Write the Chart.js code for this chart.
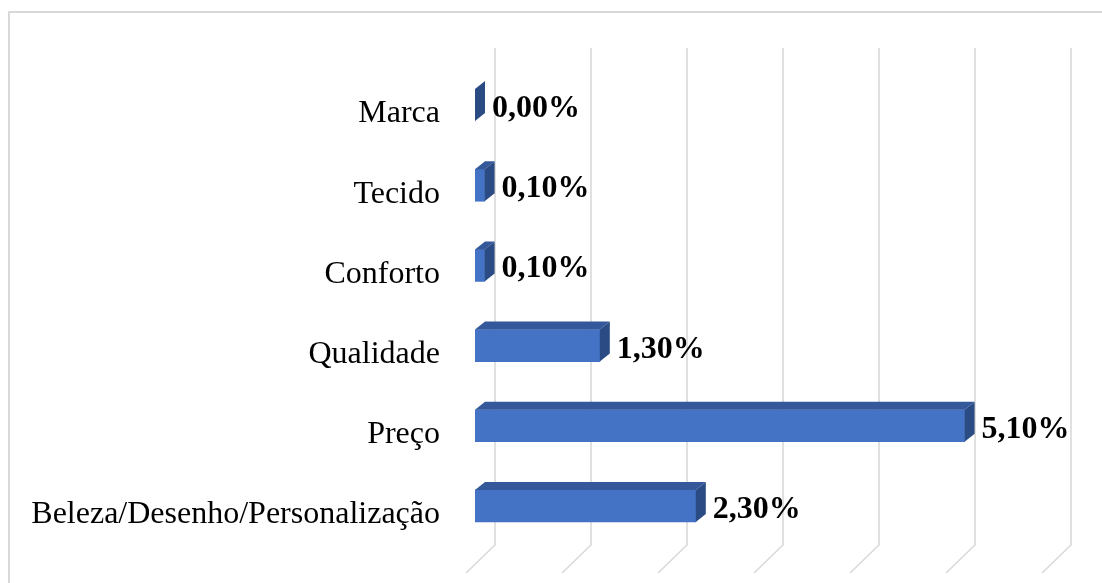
<!DOCTYPE html>
<html>
<head>
<meta charset="utf-8">
<script src="https://cdn.jsdelivr.net/npm/chart.js@4"></script>
<style>
  html, body { margin: 0; padding: 0; background: #ffffff; }
  #wrap { width: 1102px; height: 583px; }
</style>
</head>
<body>
<div id="wrap"><canvas id="myChart" width="1102" height="583"></canvas></div>
<script>
// values (percent)
const categories = ["Marca", "Tecido", "Conforto", "Qualidade", "Preço", "Beleza/Desenho/Personalização"];
const percentValues = [0.0, 0.1, 0.1, 1.3, 5.1, 2.3];
const axisMax = 6;

const frontColor = "#4472C4";
const topColor = "#34589A";
const sideColor = "#2B4B84";
const gridColor = "#d9d9d9";
const depthX = 10, depthY = 8;

function fmtPct(v) {
  return v.toFixed(2).replace(".", ",") + "%";
}

// back wall gridlines + floor diagonals, 3d faces and value labels
const bar3d = {
  id: "bar3d",
  beforeDraw(chart) {
    const ctx = chart.ctx;
    ctx.save();
    ctx.strokeStyle = gridColor;
    ctx.lineWidth = 2;
    ctx.beginPath();
    ctx.moveTo(9, 600);
    ctx.lineTo(9, 12);
    ctx.lineTo(1110, 12);
    ctx.stroke();
    ctx.restore();
  },
  beforeDatasetsDraw(chart) {
    const ctx = chart.ctx;
    const xs = chart.scales.x;
    const area = chart.chartArea;
    ctx.save();
    ctx.strokeStyle = gridColor;
    ctx.lineWidth = 1.6;
    for (let v = 0; v <= axisMax; v++) {
      const x = xs.getPixelForValue(v);
      ctx.beginPath();
      ctx.moveTo(x + 20, area.top - 17);
      ctx.lineTo(x + 20, area.bottom - 1);
      ctx.lineTo(x - 9, area.bottom + 27);
      ctx.stroke();
    }
    ctx.restore();
  },
  afterDatasetsDraw(chart) {
    const ctx = chart.ctx;
    const meta = chart.getDatasetMeta(0);
    ctx.save();
    meta.data.forEach((bar, i) => {
      const p = bar.getProps(["x", "y", "base", "height"], true);
      const top = p.y - p.height / 2;
      const bottom = p.y + p.height / 2;
      // top face
      ctx.fillStyle = topColor;
      ctx.beginPath();
      ctx.moveTo(p.base, top);
      ctx.lineTo(p.base + depthX, top - depthY);
      ctx.lineTo(p.x + depthX, top - depthY);
      ctx.lineTo(p.x, top);
      ctx.closePath();
      ctx.fill();
      // side face
      ctx.fillStyle = sideColor;
      ctx.beginPath();
      ctx.moveTo(p.x, top);
      ctx.lineTo(p.x + depthX, top - depthY);
      ctx.lineTo(p.x + depthX, bottom - depthY);
      ctx.lineTo(p.x, bottom);
      ctx.closePath();
      ctx.fill();
      // value label
      ctx.fillStyle = "#000000";
      ctx.font = "bold 32px 'Liberation Serif', 'Times New Roman', serif";
      ctx.textAlign = "left";
      ctx.textBaseline = "alphabetic";
      ctx.fillText(fmtPct(percentValues[i]), p.x + 17, p.y + 12);
    });
    ctx.restore();
  }
};

const data_1 = {
  labels: categories,
  datasets: [
    {
      data: percentValues,
      backgroundColor: frontColor,
      borderWidth: 0,
      barThickness: 32,
    },
  ],
};

const config = {
  type: "bar",
  data: data_1,
  options: {
    indexAxis: "y",
    responsive: false,
    animation: false,
    layout: {
      padding: { left: 0, right: 51, top: 65, bottom: 37 },
    },
    scales: {
      x: {
        display: false,
        min: 0,
        max: axisMax,
      },
      y: {
        grid: { display: false, drawTicks: false },
        border: { display: false },
        ticks: {
          color: "#000000",
          padding: 35,
          labelOffset: 9,
          font: { family: "'Liberation Serif', 'Times New Roman', serif", size: 32 },
        },
        afterFit(scale) {
          scale.width = 475;
          scale.paddingTop = 0;
          scale.paddingBottom = 0;
        },
      },
    },
    plugins: {
      legend: { display: false },
      tooltip: { enabled: false },
    },
  },
  plugins: [bar3d],
};

const ctx = document.getElementById("myChart").getContext("2d");
const myChart = new Chart(ctx, config);
</script>
</body>
</html>
